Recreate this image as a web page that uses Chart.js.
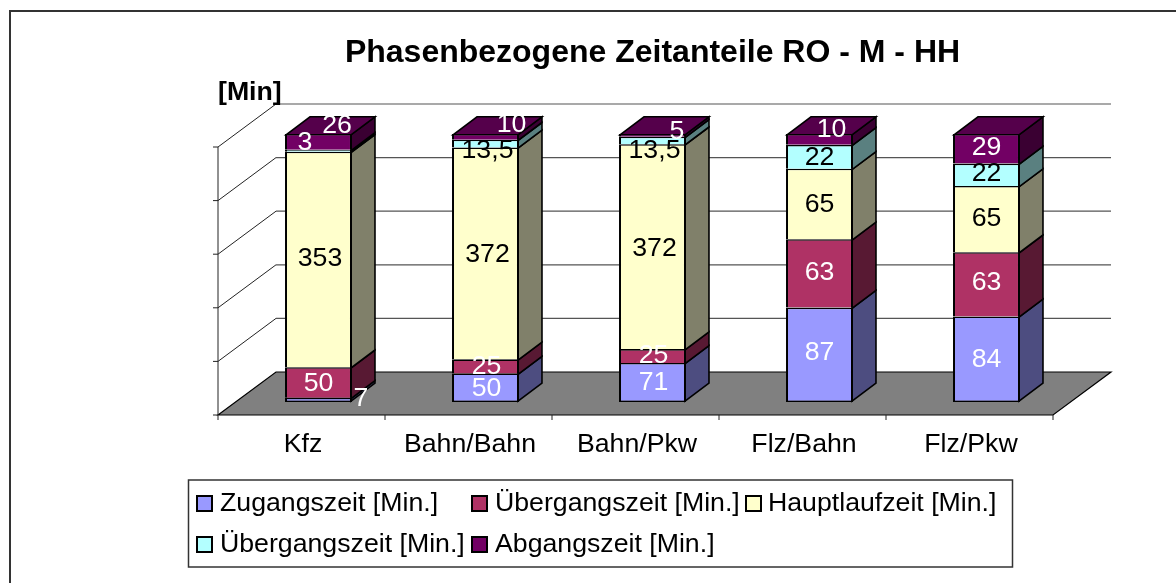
<!DOCTYPE html>
<html><head><meta charset="utf-8">
<style>html,body{margin:0;padding:0;background:#fff}#w{position:relative;width:1176px;height:583px}canvas{display:block}</style>
<script src="https://cdn.jsdelivr.net/npm/chart.js@4"></script>
</head><body><div id="w"><canvas id="c" width="1176" height="583"></canvas></div>
<script>
const categories = ["Kfz","Bahn/Bahn","Bahn/Pkw","Flz/Bahn","Flz/Pkw"];
const zugang     = [7,50,71,87,84];
const uebergang1 = [50,25,25,63,63];
const hauptlauf  = [353,372,372,65,65];
const uebergang2 = [3,13.5,13.5,22,22];
const abgang     = [26,10,5,10,29];
const seriesNames = ["Zugangszeit [Min.]","Übergangszeit [Min.]","Hauptlaufzeit [Min.]","Übergangszeit [Min.]","Abgangszeit [Min.]"];
const seriesValues = [zugang,uebergang1,hauptlauf,uebergang2,abgang];
const titleText = "Phasenbezogene Zeitanteile RO - M - HH";
const yUnit = "[Min]";
const yTicks = [0,20,40,60,80,100];

const frontColors = ["#9999FF","#AF3265","#FFFFCC","#B3FFFF","#720064"];
const sideColors  = ["#4D4D80","#581933","#80806A","#5A8080","#3A0032"];
const topColor = "#55004B";
const W="#fff",K="#000";
const labelColors = [[W,W,W,W,W],[W,W,W,W,W],[K,K,K,K,K],[W,K,K,K,K],[W,W,W,W,W]];
// manual label placement relative to segment centre (series x category)
const nudgeX = [[42.5,1,1,0,0],[0,1,1,0,0],[1.5,2,2,0,0],[-13.5,2,2,0,0],[18.5,26,24.5,12,0]];
const nudgeY = [[-2,0,-1,-3,-1],[0,-1,-1,-2,-3],[-2,0,1,0,-1],[-9,6.5,9.5,0,-2],[-17,-13,-5,-11,-2]];

const FONT = '"Liberation Sans", Arial, sans-serif';
const totals = categories.map((_,i)=>seriesValues.reduce((s,a)=>s+a[i],0));
const D = {bx:24,by:-18, fx:-17,fy:13, wx:41,wy:-30};

const threeD = {
  id:'threeD',
  beforeDraw(chart){
    const c=chart.ctx; c.save();
    c.strokeStyle='#333'; c.lineWidth=2; c.beginPath();
    c.moveTo(10,584); c.lineTo(10,11); c.lineTo(1177,11); c.stroke();
    c.restore();
  },
  beforeDatasetsDraw(chart){
    const c=chart.ctx, a=chart.chartArea, y=chart.scales.y; c.save();
    const L=a.left,R=a.right,B=a.bottom;
    // floor
    c.beginPath();
    c.moveTo(L+D.fx,B+D.fy); c.lineTo(L+D.wx,B+D.wy); c.lineTo(R+D.wx,B+D.wy); c.lineTo(R+D.fx,B+D.fy); c.closePath();
    c.fillStyle='#808080'; c.fill(); c.strokeStyle='#000'; c.lineWidth=1.2; c.stroke();
    // wall grid
    yTicks.forEach(v=>{
      const p=y.getPixelForValue(v);
      if(v>0){
        c.strokeStyle='#555'; c.lineWidth=1.2;
        c.beginPath(); c.moveTo(L+D.wx,p+D.wy); c.lineTo(R+D.wx,p+D.wy); c.stroke();
        c.strokeStyle='#222'; c.lineWidth=1;
        c.beginPath(); c.moveTo(L+D.fx,p+D.fy); c.lineTo(L+D.wx,p+D.wy); c.stroke();
      }
      c.strokeStyle='#222'; c.lineWidth=1;
      c.beginPath(); c.moveTo(L+D.fx-5,p+D.fy); c.lineTo(L+D.fx,p+D.fy); c.stroke();
    });
    c.strokeStyle='#222'; c.lineWidth=1;
    c.beginPath(); c.moveTo(L+D.fx,y.getPixelForValue(0)+D.fy); c.lineTo(L+D.fx,y.getPixelForValue(100)+D.fy); c.stroke();
    // category ticks
    const step=(R-L)/categories.length;
    for(let i=0;i<=categories.length;i++){
      const x=L+D.fx+step*i;
      c.beginPath(); c.moveTo(x,B+D.fy); c.lineTo(x,B+D.fy+5); c.stroke();
    }
    // bar sides and tops
    c.strokeStyle='#000'; c.lineWidth=1.6; c.lineJoin='miter';
    chart.data.datasets.forEach((ds,di)=>{
      chart.getDatasetMeta(di).data.forEach(el=>{
        const p=el.getProps(['x','y','base','width']);
        const r=p.x+p.width/2-1, l=p.x-p.width/2+1;
        const t=p.y+0.8, b=p.base+0.8-(di===0?1.6:0);
        c.beginPath(); c.moveTo(r,t); c.lineTo(r+D.bx,t+D.by); c.lineTo(r+D.bx,b+D.by); c.lineTo(r,b); c.closePath();
        c.fillStyle=sideColors[di]; c.fill(); c.stroke();
        if(di===chart.data.datasets.length-1){
          c.beginPath(); c.moveTo(l,t); c.lineTo(l+D.bx,t+D.by); c.lineTo(r+D.bx,t+D.by); c.lineTo(r,t); c.closePath();
          c.fillStyle=topColor; c.fill(); c.stroke();
        }
      });
    });
    c.restore();
  },
  afterDatasetsDraw(chart){
    const c=chart.ctx; c.save();
    c.font='26.7px '+FONT; c.textAlign='center'; c.textBaseline='middle';
    chart.data.datasets.forEach((ds,di)=>{
      chart.getDatasetMeta(di).data.forEach((el,i)=>{
        const p=el.getProps(['x','y','base']);
        c.fillStyle=labelColors[di][i];
        const txt=String(seriesValues[di][i]).replace('.',',');
        c.fillText(txt,p.x+nudgeX[di][i],(p.y+p.base)/2+nudgeY[di][i]+1);
      });
    });
    // unit label
    c.fillStyle='#000'; c.font='bold 26.7px '+FONT; c.textAlign='left';
    c.fillText(yUnit,218,93);
    c.restore();
  },
  afterDraw(chart){
    const c=chart.ctx; c.save();
    c.strokeStyle='#333'; c.lineWidth=1.5; c.strokeRect(188.5,480,824,87);
    const slots=[[197,220,503],[472,495,503],[746,768,503],[197,220,544],[472,495,544]];
    c.font='26.7px '+FONT; c.textAlign='left'; c.textBaseline='middle';
    seriesNames.forEach((n,i)=>{
      const [mx,tx,yy]=slots[i];
      c.fillStyle=frontColors[i]; c.fillRect(mx,yy-7,15,15);
      c.strokeStyle='#000'; c.lineWidth=2; c.strokeRect(mx,yy-7,15,15);
      c.fillStyle='#000'; c.fillText(n,tx,yy+1);
    });
    c.restore();
  }
};

new Chart(document.getElementById('c'),{
  type:'bar',
  data:{labels:categories,datasets:seriesValues.map((vals,i)=>({
    label:seriesNames[i],
    data:vals.map((v,j)=>v/totals[j]*100),
    backgroundColor:frontColors[i],borderColor:'#000',
    borderWidth:{top:1.6,left:2,right:2,bottom:i===0?1.6:0},borderSkipped:false,inflateAmount:0,
    categoryPercentage:1,barPercentage:0.401
  }))},
  options:{
    responsive:false,animation:false,
    layout:{padding:{left:235,right:106,top:0,bottom:111}},
    plugins:{
      legend:{display:false},tooltip:{enabled:false},
      title:{display:true,text:titleText,color:'#000',font:{family:FONT,size:32,weight:'bold'},padding:{top:33.8,bottom:61.8}}
    },
    scales:{
      x:{stacked:true,grid:{display:false,drawTicks:false},border:{display:false},
         afterFit(s){s.height=70;},
         ticks:{color:'#000',font:{family:FONT,size:26.7},padding:27,labelOffset:-15.5,autoSkip:false,maxRotation:0}},
      y:{stacked:true,display:false,min:0,max:100,ticks:{stepSize:20}}
    }
  },
  plugins:[threeD]
});
</script></body></html>
